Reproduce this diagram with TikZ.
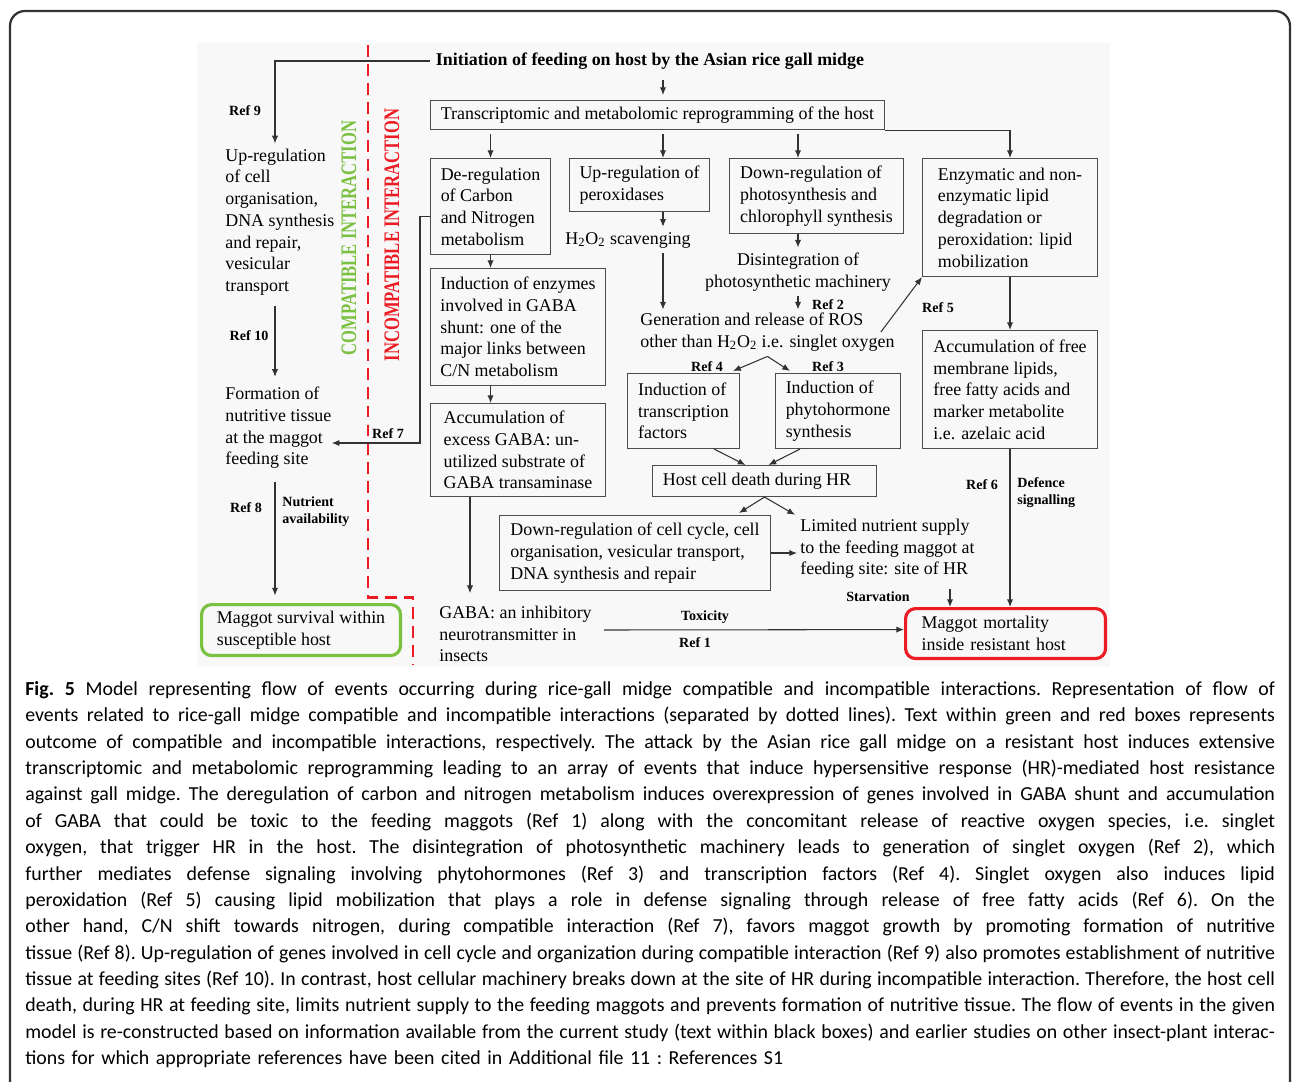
\documentclass[tikz,border=0pt]{standalone}
\usepackage{fontspec}
\setmainfont{Liberation Serif}
\newfontfamily\capfont{Carlito}
\usepackage{xcolor}
\usetikzlibrary{positioning,arrows,arrows.meta}
\definecolor{compgreen}{RGB}{122,193,66}
\definecolor{incred}{RGB}{237,28,36}
\definecolor{panelgray}{RGB}{248,248,248}
\newcommand{\evfont}{\fontsize{10.2}{12.35}\selectfont}
\newcommand{\reffont}{\fontsize{8}{9.7}\selectfont\bfseries}
\newcommand{\capline}[1]{\hbox to 25cm{\spaceskip=0.226em plus 1em minus 0.12em\relax #1}}
\tikzstyle{event}=[rectangle, draw=black!70, line width=0.6pt, align=left, anchor=north west, inner xsep=0.18cm, font=\evfont]
\tikzstyle{outcome}=[event, rounded corners=0.2cm, line width=1.8pt]
\tikzstyle{plain}=[inner sep=0pt, align=left, font=\evfont]
\tikzstyle{reflabel}=[inner sep=0pt, align=left, font=\reffont]
\tikzstyle{arrow}=[-{Latex[length=4.4pt,width=3.6pt]}, line width=0.6pt, black!80]
\tikzstyle{side}=[inner sep=0pt, rotate=90, font=\fontsize{12.6}{12.6}\selectfont\bfseries]

\begin{document}
\begin{tikzpicture}[x=0.02cm, y=-0.02cm]
    \useasboundingbox (0,0) rectangle (1292,1082);
    \clip (0,0) rectangle (1292,1082);
    \draw[line width=1.3pt, black!80, rounded corners=0.3cm] (10,1130) -- (10,11) -- (1290,11) -- (1290,1130);
    \fill[panelgray] (197,43) rectangle (1110,667);

    % incompatible side
    \node[font=\fontsize{10.2}{11}\selectfont\bfseries, inner sep=0pt] (init) at (650,61) {Initiation of feeding on host by the Asian rice gall midge};
    \node[event, minimum width=9.08cm, minimum height=0.58cm, align=center] (trans) at (430,100) {Transcriptomic and metabolomic reprogramming of the host};
    \node[event, minimum width=2.4cm, minimum height=1.92cm] (carbon) at (430,158) {De-regulation\\of Carbon\\and Nitrogen\\metabolism};
    \node[event, minimum width=2.8cm, minimum height=1.06cm] (perox) at (569,158) {Up-regulation of\\peroxidases};
    \node[event, minimum width=3.48cm, minimum height=1.5cm] (photo) at (729,158) {Down-regulation of\\photosynthesis and\\chlorophyll synthesis};
    \node[event, minimum width=3.5cm, minimum height=2.36cm] (lipid) at (922,158) {Enzymatic and non-\\enzymatic lipid\\degradation or\\peroxidation: lipid\\mobilization};
    \node[event, minimum width=3.5cm, minimum height=2.34cm] (shunt) at (430,268) {Induction of enzymes\\involved in GABA\\shunt: one of the\\major links between\\C/N metabolism};
    \node[event, minimum width=3.5cm, minimum height=1.86cm] (gaba) at (430,403) {Accumulation of\\excess GABA: un-\\utilized substrate of\\GABA transaminase};
    \node[event, minimum width=2.24cm, minimum height=1.5cm] (tf) at (627,373) {Induction of\\transcription\\factors};
    \node[event, minimum width=2.5cm, minimum height=1.5cm] (phyto) at (775,373) {Induction of\\phytohormone\\synthesis};
    \node[event, minimum width=3.5cm, minimum height=2.36cm] (free) at (922,330) {Accumulation of free\\membrane lipids,\\free fatty acids and\\marker metabolite\\i.e. azelaic acid};
    \node[event, minimum width=4.48cm, minimum height=0.62cm] (hcd) at (652,465) {Host cell death during HR\hspace{0.3cm}};
    \node[event, minimum width=5.42cm, minimum height=1.5cm] (cycle) at (499,515) {Down-regulation of cell cycle, cell\\organisation, vesicular transport,\\DNA synthesis and repair};

    \node[plain] (h2o2) at (628,240) {H\textsubscript{2}O\textsubscript{2} scavenging};
    \node[plain, align=center] (disint) at (798,272) {Disintegration of\\photosynthetic machinery};
    \node[plain, anchor=west] (ros) at (640,332) {Generation and release of ROS\\other than H\textsubscript{2}O\textsubscript{2} i.e. singlet oxygen};
    \node[plain, anchor=west] (limited) at (800,549) {Limited nutrient supply\\to the feeding maggot at\\feeding site: site of HR};
    \node[plain, anchor=west] (neuro) at (439,634) {GABA: an inhibitory\\neurotransmitter in\\insects};
    \node[outcome, draw=incred, inner xsep=0.32cm, text width=3.36cm, minimum height=1cm] (mort) at (904,607) {Maggot mortality\\inside resistant host};

    % compatible side
    \node[plain, anchor=west] (upcell) at (225,222) {Up-regulation\\of cell\\organisation,\\DNA synthesis\\and repair,\\vesicular\\transport};
    \node[plain, anchor=west] (nutri) at (225,428) {Formation of\\nutritive tissue\\at the maggot\\feeding site};
    \node[outcome, draw=compgreen, minimum width=3.98cm, minimum height=1.02cm] (surv) at (200,603) {Maggot survival within\\susceptible host};

    \node[side, text=compgreen] (comp) at (349,238) {\scalebox{0.75}[1]{COMPATIBLE INTERACTION}};
    \node[side, text=incred] (incomp) at (392,235) {\scalebox{0.75}[1]{INCOMPATIBLE INTERACTION}};
    \draw[incred, line width=1.7pt, dash pattern=on 6.8pt off 4pt] (368,45) -- (368,597) -- (413,597) -- (413,665);

    % references and labels
    \node[reflabel] (r9) at (245,111) {Ref 9};
    \node[reflabel] (r10) at (249,336) {Ref 10};
    \node[reflabel] (r7) at (388,434) {Ref 7};
    \node[reflabel] (r8) at (246,508) {Ref 8};
    \node[reflabel, anchor=west] (avail) at (282,512) {Nutrient\\availability};
    \node[reflabel] (r2) at (828,305) {Ref 2};
    \node[reflabel] (r5) at (938,308) {Ref 5};
    \node[reflabel] (r4) at (707,367) {Ref 4};
    \node[reflabel] (r3) at (828,367) {Ref 3};
    \node[reflabel] (r6) at (982,485) {Ref 6};
    \node[reflabel, anchor=west] (defence) at (1017,493) {Defence\\signalling};
    \node[reflabel] (starv) at (878,597) {Starvation};
    \node[reflabel] (tox) at (705,617) {Toxicity};
    \node[reflabel] (r1) at (695,643) {Ref 1};

    % connectors
    \coordinate (spine) at (275,0);
    \coordinate (px) at (663,0);
    \coordinate (dx) at (798,0);
    \coordinate (sx) at (950,0);
    \coordinate (gx) at (470,0);
    \draw[arrow] ([xshift=-0.12cm]init.west) -| ([yshift=0.1cm]spine |- upcell.north);
    \draw[arrow] ([yshift=-0.2cm]spine |- upcell.south) -- ([yshift=0.2cm]spine |- nutri.north);
    \draw[arrow] ([yshift=-0.25cm]spine |- nutri.south) -- ([yshift=0.15cm]spine |- surv.north);
    \draw[arrow] ([yshift=-0.2cm]carbon.west) -- ++(-10,0) |- ([yshift=-0.3cm]nutri.east);
    \draw[arrow] ([yshift=-0.2cm]px |- init.south) -- ([yshift=0.1cm]px |- trans.north);
    \draw[arrow] ([yshift=-0.08cm]carbon.north |- trans.south) -- (carbon.north);
    \draw[arrow] ([yshift=-0.08cm]px |- trans.south) -- (px |- perox.north);
    \draw[arrow] ([yshift=-0.08cm]dx |- trans.south) -- (dx |- photo.north);
    \draw[arrow] (trans.south east) -| (lipid.north);
    \draw[arrow] (px |- perox.south) -- ([yshift=0.1cm]px |- h2o2.north);
    \draw[arrow] ([yshift=-0.1cm]px |- h2o2.south) -- ([yshift=0.06cm]px |- ros.north);
    \draw[arrow] (dx |- photo.south) -- ([yshift=0.1cm]disint.north);
    \draw[arrow] ([yshift=-0.1cm]disint.south) -- ([yshift=0.06cm]disint.south |- ros.north);
    \draw[arrow] ([xshift=-0.28cm]ros.east) -- (lipid.south west);
    \draw[arrow] (lipid.south) -- (free.north);
    \draw[arrow] ([yshift=-0.1cm]ros.south) -- ([xshift=-0.14cm,yshift=0.04cm]tf.north east);
    \draw[arrow] ([yshift=-0.1cm]ros.south) -- ([xshift=0.3cm,yshift=0.04cm]phyto.north west);
    \draw[arrow] (carbon.south) -- (carbon.south |- shunt.north);
    \draw[arrow] (carbon.south |- shunt.south) -- (carbon.south |- gaba.north);
    \draw[arrow] ([xshift=-0.52cm]tf.south east) -- ([xshift=-0.38cm]hcd.north);
    \draw[arrow] ([xshift=0.5cm]phyto.south west) -- ([xshift=0.08cm]hcd.north);
    \draw[arrow] (hcd.south) -- ([xshift=-0.64cm,yshift=0.04cm]cycle.north east);
    \draw[arrow] (hcd.south) -- ([xshift=-0.1cm,yshift=0.08cm]limited.north west);
    \draw[arrow] (cycle.east) -- ([xshift=-0.06cm]cycle.east -| limited.west);
    \draw[arrow] ([yshift=-0.2cm]sx |- limited.south) -- (sx |- mort.north);
    \draw[arrow] (free.south) -- (free.south |- mort.north);
    \draw[arrow] (gx |- gaba.south) -- ([yshift=0.25cm]gx |- neuro.north);
    \draw[arrow] ([xshift=0.24cm,yshift=0.08cm]neuro.east) -- ([yshift=0.08cm]mort.west);

    % caption
    \node[anchor=north west, inner sep=0pt, text width=25cm, font=\capfont\fontsize{11.3}{15.02}\selectfont\frenchspacing] (caption) at (25,681) {%
    \capline{\textbf{Fig. 5} Model representing flow of events occurring during rice-gall midge compatible and incompatible interactions. Representation of flow of}
    \capline{events related to rice-gall midge compatible and incompatible interactions (separated by dotted lines). Text within green and red boxes represents}
    \capline{outcome of compatible and incompatible interactions, respectively. The attack by the Asian rice gall midge on a resistant host induces extensive}
    \capline{transcriptomic and metabolomic reprogramming leading to an array of events that induce hypersensitive response (HR)-mediated host resistance}
    \capline{against gall midge. The deregulation of carbon and nitrogen metabolism induces overexpression of genes involved in GABA shunt and accumulation}
    \capline{of GABA that could be toxic to the feeding maggots (Ref 1) along with the concomitant release of reactive oxygen species, i.e. singlet}
    \capline{oxygen, that trigger HR in the host. The disintegration of photosynthetic machinery leads to generation of singlet oxygen (Ref 2), which}
    \capline{further mediates defense signaling involving phytohormones (Ref 3) and transcription factors (Ref 4). Singlet oxygen also induces lipid}
    \capline{peroxidation (Ref 5) causing lipid mobilization that plays a role in defense signaling through release of free fatty acids (Ref 6). On the}
    \capline{other hand, C/N shift towards nitrogen, during compatible interaction (Ref 7), favors maggot growth by promoting formation of nutritive}
    \capline{tissue (Ref 8). Up-regulation of genes involved in cell cycle and organization during compatible interaction (Ref 9) also promotes establishment of nutritive}
    \capline{tissue at feeding sites (Ref 10). In contrast, host cellular machinery breaks down at the site of HR during incompatible interaction. Therefore, the host cell}
    \capline{death, during HR at feeding site, limits nutrient supply to the feeding maggots and prevents formation of nutritive tissue. The flow of events in the given}
    \capline{model is re-constructed based on information available from the current study (text within black boxes) and earlier studies on other insect-plant interac-}
    \hbox{tions for which appropriate references have been cited in Additional file 11 : References S1}};
\end{tikzpicture}
\end{document}
